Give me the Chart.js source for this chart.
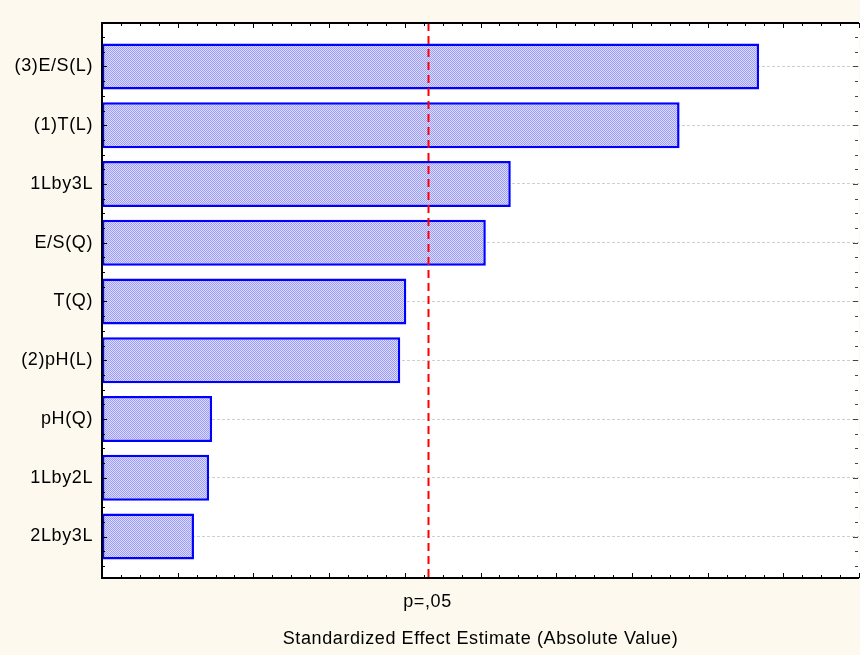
<!DOCTYPE html>
<html>
<head>
<meta charset="utf-8">
<script src="https://cdn.jsdelivr.net/npm/chart.js@4/dist/chart.umd.min.js"></script>
<style>
html,body{margin:0;padding:0;background:#fdf9ee;}
#wrap{width:860px;height:655px;position:relative;}
</style>
</head>
<body>
<div id="wrap"><canvas id="c" width="860" height="655"></canvas></div>
<script>
const categories = ['(3)E/S(L)', '(1)T(L)', '1Lby3L', 'E/S(Q)', 'T(Q)', '(2)pH(L)', 'pH(Q)', '1Lby2L', '2Lby3L'];
const effects = [8.68, 7.63, 5.40, 5.07, 4.02, 3.94, 1.455, 1.415, 1.215];
const pCritical = 4.30;
const pLabel = 'p=,05';
const xTitle = 'Standardized Effect Estimate (Absolute Value)';
const xMin = 0, xMax = 10;

const FONT = '"Liberation Sans", Arial, sans-serif';

// hatch pattern for bar fill
const pc = document.createElement('canvas');
pc.width = 4; pc.height = 4;
const pctx = pc.getContext('2d');
pctx.fillStyle = '#dcdcfd';
pctx.fillRect(0, 0, 4, 4);
pctx.fillStyle = '#9c9cf6';
for (let i = 0; i < 4; i++) { pctx.fillRect(i, i, 1, 1); pctx.fillRect((i + 2) % 4, i, 1, 1); }
const ctx0 = document.getElementById('c').getContext('2d');
const hatch = ctx0.createPattern(pc, 'repeat');

const framePlugin = {
  id: 'frame',
  beforeDraw(chart) {
    const ctx = chart.ctx, a = chart.chartArea;
    ctx.save();
    ctx.fillStyle = '#fdf9ee';
    ctx.fillRect(0, 0, chart.width, chart.height);
    ctx.fillStyle = '#ffffff';
    ctx.fillRect(a.left, a.top, a.right - a.left, a.bottom - a.top);
    ctx.restore();
    ctx.letterSpacing = '0.6px';
  },
  afterDatasetsDraw(chart) {
    const ctx = chart.ctx, a = chart.chartArea;
    const xs = chart.scales.x, ys = chart.scales.y;
    ctx.save();
    // critical value line
    const px = Math.round(xs.getPixelForValue(pCritical)) + 0.5;
    ctx.strokeStyle = '#ff0000';
    ctx.lineWidth = 2;
    ctx.setLineDash([8, 5]);
    ctx.beginPath();
    ctx.moveTo(px, a.top);
    ctx.lineTo(px, a.bottom);
    ctx.stroke();
    ctx.setLineDash([]);
    // x ticks (top and bottom, inward)
    ctx.strokeStyle = '#000';
    ctx.lineWidth = 1;
    for (let v = xMin; v <= xMax + 1e-9; v += 0.25) {
      const x = Math.round(xs.getPixelForValue(v)) + 0.5;
      const major = Math.abs(v - Math.round(v)) < 1e-6;
      const len = major ? 5 : 3;
      ctx.beginPath();
      ctx.moveTo(x, a.bottom); ctx.lineTo(x, a.bottom - len);
      ctx.moveTo(x, a.top); ctx.lineTo(x, a.top + len);
      ctx.stroke();
    }
    // y ticks (left and right, inward)
    for (let v = -0.5; v <= 8.5 + 1e-9; v += 0.25) {
      const y = Math.round(ys.getPixelForValue(v)) + 0.5;
      const major = Math.abs(v - Math.round(v)) < 1e-6;
      const len = major ? 5 : 3;
      ctx.strokeStyle = '#000';
      ctx.beginPath();
      ctx.moveTo(a.left, y); ctx.lineTo(a.left + len, y);
      ctx.stroke();
      ctx.strokeStyle = '#444';
      ctx.beginPath();
      ctx.moveTo(a.right - 1, y); ctx.lineTo(a.right - 1 - len, y);
      ctx.stroke();
    }
    // frame: left, top, bottom
    ctx.strokeStyle = '#000';
    ctx.lineWidth = 2;
    ctx.beginPath();
    ctx.moveTo(a.right, a.top); ctx.lineTo(a.left, a.top);
    ctx.lineTo(a.left, a.bottom); ctx.lineTo(a.right, a.bottom);
    ctx.stroke();
    ctx.restore();
  }
};

new Chart(ctx0, {
  type: 'bar',
  data: {
    datasets: [{
      data: effects.map((v, i) => ({ x: v, y: i })),
      backgroundColor: hatch,
      borderColor: '#0000ff',
      borderWidth: 2.5,
      borderSkipped: false,
      barPercentage: 0.78,
      categoryPercentage: 1
    }]
  },
  options: {
    indexAxis: 'y',
    responsive: false,
    animation: false,
    devicePixelRatio: 1,
    layout: { padding: { top: 23, right: 1, left: 0, bottom: 0 } },
    plugins: { legend: { display: false }, tooltip: { enabled: false } },
    scales: {
      x: {
        type: 'linear',
        min: xMin, max: xMax,
        afterBuildTicks(s) { s.ticks = [{ value: pCritical }]; },
        afterFit(s) { s.height = 77; },
        ticks: { callback: () => pLabel, color: '#000', font: { family: FONT, size: 18 }, padding: 13, maxRotation: 0, autoSkip: false },
        grid: { display: false, drawTicks: false },
        border: { display: false },
        title: { display: true, text: xTitle, color: '#000', font: { family: FONT, size: 18 }, padding: { top: 0, bottom: 5 } }
      },
      y: {
        type: 'linear',
        reverse: true,
        offset: false,
        min: -0.74, max: 8.706,
        afterBuildTicks(s) { s.ticks = categories.map((c, i) => ({ value: i })); },
        afterFit(s) { s.width = 102; },
        ticks: { callback: (v) => categories[v], color: '#000', font: { family: FONT, size: 18 }, padding: 9, autoSkip: false },
        grid: { display: true, offset: false, drawTicks: false, color: '#cfcfcf', lineWidth: 1 },
        border: { display: false, dash: [3, 2] }
      }
    }
  },
  plugins: [framePlugin]
});
</script>
</body>
</html>
